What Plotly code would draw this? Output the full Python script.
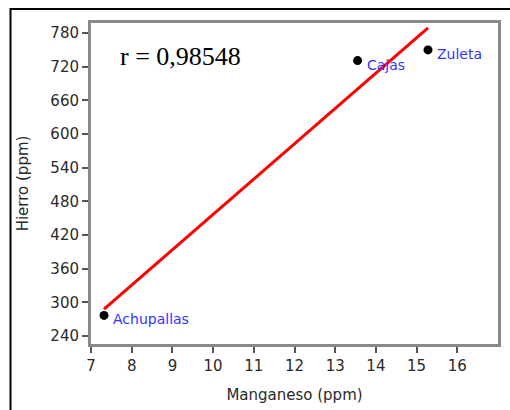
import numpy as np
import plotly.graph_objects as go

# Manganese and iron content per site (ppm)
sites = ["Achupallas", "Cajas", "Zuleta"]
manganeso = [7.32, 13.55, 15.28]
hierro = [277, 731, 750]

x_ticks = [7, 8, 9, 10, 11, 12, 13, 14, 15, 16]
y_ticks = [240, 300, 360, 420, 480, 540, 600, 660, 720, 780]
r_label = "r = 0,98548"

# Least-squares line across the observed manganese range
slope, intercept = np.polyfit(manganeso, hierro, 1)
x_fit = np.array([min(manganeso), max(manganeso)])
y_fit = slope * x_fit + intercept

W, H = 510, 410
ml, mr, mt, mb = 91, 12, 23, 66
pw, ph = W - ml - mr, H - mt - mb


def px_to_paper(px, py):
    return (px - ml) / pw, (H - mb - py) / ph


fig = go.Figure()
fig.add_trace(go.Scatter(
    x=x_fit, y=y_fit, mode="lines",
    line=dict(color="#ff0000", width=3),
    hoverinfo="skip", showlegend=False,
))
fig.add_trace(go.Scatter(
    x=manganeso, y=hierro, mode="markers",
    marker=dict(color="black", size=9),
    showlegend=False,
))

for name, xv, yv in zip(sites, manganeso, hierro):
    fig.add_annotation(
        x=xv, y=yv, text=name, showarrow=False,
        xanchor="left", yanchor="middle", xshift=7, yshift=-4,
        font=dict(family="DejaVu Sans", size=14, color="#3333ff"),
    )

fig.add_annotation(
    x=7.67, y=738, text=r_label, showarrow=False,
    xanchor="left", yanchor="middle",
    font=dict(family="Liberation Serif", size=26, color="black"),
)

# Outer black frame (left and top edges visible)
fx0, fy0 = px_to_paper(10.5, 9)
fx1, fy1 = px_to_paper(520, 420)
fig.add_shape(type="rect", xref="paper", yref="paper",
              x0=fx0, y0=fy1, x1=fx1, y1=fy0,
              line=dict(color="black", width=2), layer="below")

axis_font = dict(family="DejaVu Sans", size=15, color="#2a2a2a")
fig.update_xaxes(
    range=[7, 17], tickvals=x_ticks, ticks="outside", ticklen=6,
    tickwidth=2, tickcolor="#555555", showline=True, linewidth=3,
    linecolor="#8a8a8a", mirror=True, showgrid=False, zeroline=False,
    tickfont=axis_font,
    title=dict(text="Manganeso (ppm)", font=axis_font, standoff=16),
)
fig.update_yaxes(
    range=[226, 798], tickvals=y_ticks, ticks="outside", ticklen=6,
    tickwidth=2, tickcolor="#555555", showline=True, linewidth=3,
    linecolor="#8a8a8a", mirror=True, showgrid=False, zeroline=False,
    tickfont=axis_font,
    title=dict(text="Hierro (ppm)", font=axis_font, standoff=19),
)
fig.update_layout(
    width=W, height=H,
    margin=dict(l=ml, r=mr, t=mt, b=mb, autoexpand=False),
    plot_bgcolor="white", paper_bgcolor="white",
)
fig.write_html("out.html")
